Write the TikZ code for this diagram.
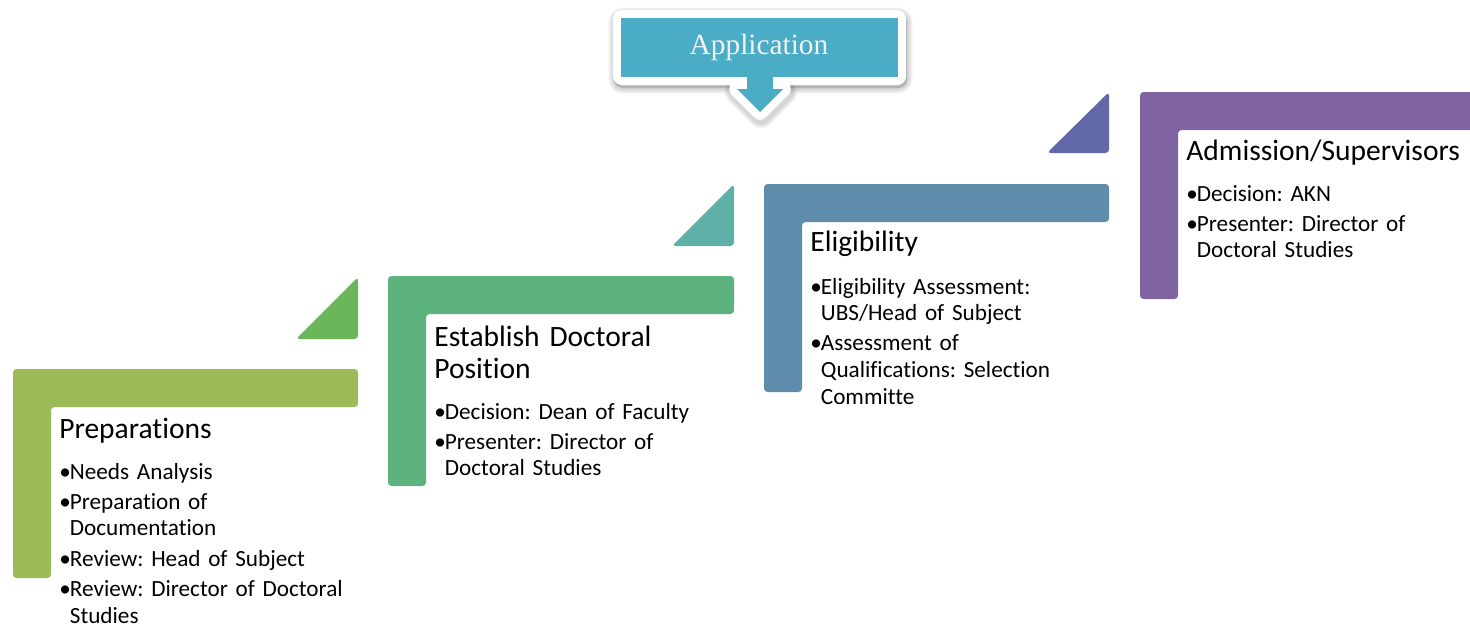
\documentclass[tikz,border=0pt]{standalone}
\usepackage{fontspec}
\setmainfont{Carlito}[Ligatures=CommonOff]
\newfontfamily\appfont{Liberation Serif}

\definecolor{prepgreen}{HTML}{9BBB59}
\definecolor{trione}{HTML}{6BB55B}
\definecolor{estabgreen}{HTML}{5DB37D}
\definecolor{tritwo}{HTML}{5EAFA6}
\definecolor{eligblue}{HTML}{5F8CAB}
\definecolor{trithree}{HTML}{6068A7}
\definecolor{admpurple}{HTML}{8064A2}
\definecolor{appteal}{HTML}{4BACC6}

\newcommand{\bul}{\makebox[6pt][l]{\textbullet}}
\newcommand{\ind}{\hspace*{6pt}}

\tikzset{
	stagetitle/.style={anchor=base west, inner sep=0pt, text width=7cm, align=left,
		font=\fontsize{16.8}{18.7}\selectfont},
	stageitems/.style={anchor=base west, inner sep=0pt, text width=7cm, align=left,
		font=\fontsize{13.2}{15.2}\selectfont\frenchspacing},
}

\begin{document}
\begin{tikzpicture}[x=0.02cm, y=-0.02cm]
		\useasboundingbox ( 0, 0 ) rectangle ( 1470, 627 );

		% выноска Application: тень
		\foreach \w in { 2, 4, 6 } {
			\filldraw [black, opacity=0.06, line width=\w pt, rounded corners=5] ( 614, 13 ) rectangle ( 907, 88 );
			\filldraw [black, opacity=0.06, line width=9pt+\w pt, line join=round]
				( 748, 80 ) -- ( 748, 92 ) -- ( 738, 92 ) -- ( 761, 115 ) -- ( 784, 92 ) -- ( 774, 92 ) -- ( 774, 80 ) -- cycle;
		}
		% выноска Application: белая рамка и заливка
		\fill [white, rounded corners=5] ( 613, 10 ) rectangle ( 906, 85 );
		\filldraw [white, line width=9pt, line join=round]
			( 747, 77 ) -- ( 747, 89 ) -- ( 737, 89 ) -- ( 760, 112 ) -- ( 783, 89 ) -- ( 773, 89 ) -- ( 773, 77 ) -- cycle;
		\fill [appteal] ( 621, 18 ) rectangle ( 898, 77 );
		\fill [appteal] ( 747, 76 ) -- ( 747, 89 ) -- ( 737, 89 ) -- ( 760, 112 ) -- ( 783, 89 ) -- ( 773, 89 ) -- ( 773, 76 ) -- cycle;
		\node (app) [inner sep=0pt, text=white!95!black, font=\appfont\fontsize{16.7}{20}\selectfont] at ( 759, 47 ) {Application};

		% этап 1: Preparations
		\fill [prepgreen, rounded corners=2] ( 13, 369 ) -- ( 358, 369 ) -- ( 358, 407 ) -- ( 51, 407 ) -- ( 51, 578 ) -- ( 13, 578 ) -- cycle;
		\fill [trione, rounded corners=2] ( 296, 339 ) -- ( 358, 339 ) -- ( 358, 277 ) -- cycle;
		\node (prep) [stagetitle] at ( 59, 438 ) {Preparations};
		\node (prepitems) [stageitems] at ( 59, 479 ) {\bul Needs Analysis\\[2pt]
			\bul Preparation of\\ \ind Documentation\\[2pt]
			\bul Review: Head of Subject\\[2pt]
			\bul Review: Director of Doctoral\\ \ind Studies};

		% этап 2: Establish Doctoral Position
		\fill [estabgreen, rounded corners=2] ( 388, 276 ) -- ( 734, 276 ) -- ( 734, 314 ) -- ( 426, 314 ) -- ( 426, 486 ) -- ( 388, 486 ) -- cycle;
		\fill [tritwo, rounded corners=2] ( 672, 246 ) -- ( 734, 246 ) -- ( 734, 184 ) -- cycle;
		\node (estab) [stagetitle] at ( 434, 346 ) {Establish Doctoral\\Position};
		\node (estabitems) [stageitems] at ( 434, 419 ) {\bul Decision: Dean of Faculty\\[2pt]
			\bul Presenter: Director of\\ \ind Doctoral Studies};

		% этап 3: Eligibility
		\fill [eligblue, rounded corners=2] ( 764, 184 ) -- ( 1109, 184 ) -- ( 1109, 222 ) -- ( 802, 222 ) -- ( 802, 392 ) -- ( 764, 392 ) -- cycle;
		\fill [trithree, rounded corners=2] ( 1047, 153 ) -- ( 1109, 153 ) -- ( 1109, 92 ) -- cycle;
		\node (elig) [stagetitle] at ( 810, 251 ) {Eligibility};
		\node (eligitems) [stageitems] at ( 810, 294 ) {\bul Eligibility Assessment:\\ \ind UBS/Head of Subject\\[2pt]
			\bul Assessment of\\ \ind Qualifications: Selection\\ \ind Committe};

		% этап 4: Admission/Supervisors
		\fill [admpurple, rounded corners=2] ( 1140, 92 ) -- ( 1490, 92 ) -- ( 1490, 130 ) -- ( 1178, 130 ) -- ( 1178, 299 ) -- ( 1140, 299 ) -- cycle;
		\node (adm) [stagetitle] at ( 1186, 160 ) {Admission/Supervisors};
		\node (admitems) [stageitems] at ( 1186, 201 ) {\bul Decision: AKN\\[2pt]
			\bul Presenter: Director of\\ \ind Doctoral Studies};
	\end{tikzpicture}
\end{document}
